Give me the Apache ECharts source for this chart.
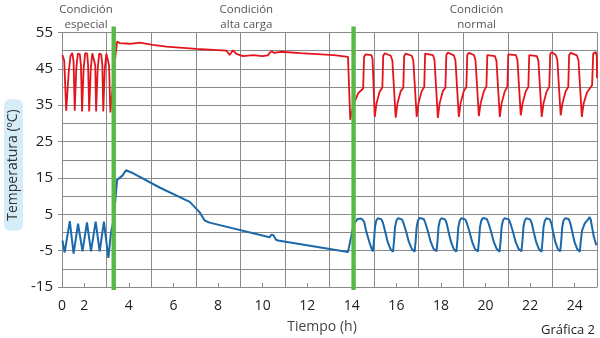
<!DOCTYPE html>
<html>
<head>
<meta charset="utf-8">
<script src="https://cdn.jsdelivr.net/npm/echarts@6/dist/echarts.min.js"></script>
<style>
html,body{margin:0;padding:0;background:#fff;}
#c{width:600px;height:338px;}
</style>
</head>
<body>
<div id="c"></div>
<script>
// ---- data (hours, ºC) ----
const redHours = [1.02,1.10,1.19,1.30,1.38,1.46,1.52,1.57,1.64,1.71,1.80,1.85,1.90,1.97,2.04,2.13,2.17,2.22,2.29,2.36,2.44,2.49,2.53,2.60,2.67,2.76,2.81,2.85,2.92,2.99,3.06,3.11,3.17,3.23,3.30,3.37,3.47,3.59,4.04,4.49,5.07,5.68,7.03,8.38,8.45,8.52,8.60,8.67,8.75,8.82,9.12,9.57,9.99,10.23,10.32,10.41,10.50,10.81,11.70,13.19,13.83,13.93,14.06,14.29,14.51,14.55,14.63,14.88,14.93,15.03,
15.11,15.25,15.37,15.41,15.48,15.75,15.82,15.97,
16.05,16.19,16.31,16.35,16.42,16.69,16.76,16.91,
16.99,17.13,17.25,17.29,17.36,17.64,17.71,17.86,
17.94,18.08,18.20,18.24,18.31,18.58,18.65,18.80,
18.88,19.02,19.14,19.18,19.25,19.48,19.55,19.70,
19.78,19.92,20.04,20.08,20.15,20.42,20.49,20.64,
20.72,20.86,20.98,21.02,21.09,21.36,21.43,21.58,
21.66,21.80,21.92,21.96,22.03,22.30,22.37,22.52,
22.60,22.74,22.86,22.90,22.97,23.15,23.22,23.37,
23.45,23.59,23.71,23.75,23.82,24.10,24.17,24.32,
24.40,24.55,24.78,24.83,24.95,24.99,25.00];
const redTemps = [48.8,47.2,33.5,44,48.5,49.4,47,33.5,45,49.2,49,46,33.3,45,49.3,49.2,46,33.3,45,49.3,49,46,33.3,45,49.2,49,46,33.3,45,49.2,48.8,46,33.0,37,42,47,52.5,52.1,51.9,52.2,51.6,51.1,50.5,50,49.6,48.8,49.3,50.1,49.6,49.1,48.5,48.8,48.5,48.7,49.4,49.9,49.4,49.7,49.3,48.8,48.3,31.0,35,38.3,39.6,48.3,49.0,48.8,47.7,31.8,
35.5,38.8,39.8,48.6,49.3,48.6,47.3,31.6,
35.5,38.8,39.8,48.5,49.2,48.6,47.3,31.8,
35.5,38.8,40.0,49.2,49.6,48.8,47.5,31.5,
35.5,38.8,39.8,48.8,49.5,48.7,47.3,31.8,
35.5,38.8,40.0,48.8,49.4,48.8,47.3,32.0,
35.5,38.8,40.2,48.8,49.3,48.5,47.2,31.8,
35.5,38.8,40.0,49.0,49.5,48.8,47.5,32.2,
35.5,38.8,40.0,48.8,49.2,48.5,47.3,31.8,
35.5,38.8,40.0,49.0,49.6,48.8,47.5,32.2,
35.5,38.8,40.0,48.8,49.4,48.7,47.3,31.8,
35.5,38.5,40.5,49.2,49.6,48.5,42.4];

const blueHours = [1.02,1.12,1.35,1.52,1.72,1.92,2.12,2.30,2.51,2.69,2.88,3.08,3.20,3.32,3.47,3.72,3.87,4.11,5.40,6.73,7.17,7.40,7.62,10.31,10.40,10.49,10.60,10.69,13.83,13.91,13.96,14.03,14.09,14.28,14.44,14.55,14.64,14.78,14.89,14.95,
15.00,15.04,15.10,15.17,15.33,15.40,15.50,15.61,15.73,15.85,
15.90,15.94,16.00,16.07,16.25,16.32,16.44,16.56,16.69,16.82,
16.87,16.91,16.97,17.04,17.23,17.30,17.42,17.54,17.67,17.80,
17.85,17.89,17.95,18.02,18.18,18.25,18.34,18.45,18.57,18.69,
18.74,18.78,18.84,18.91,19.09,19.16,19.28,19.40,19.53,19.66,
19.71,19.75,19.81,19.88,20.06,20.13,20.25,20.37,20.50,20.63,
20.68,20.72,20.78,20.85,21.04,21.11,21.23,21.35,21.48,21.61,
21.66,21.70,21.76,21.83,22.00,22.07,22.16,22.27,22.39,22.51,
22.56,22.60,22.66,22.73,22.88,22.95,23.03,23.13,23.24,23.35,
23.40,23.44,23.50,23.57,23.73,23.80,23.89,23.99,24.11,24.23,
24.27,24.33,24.45,24.60,24.67,24.72,24.85,24.97];
const blueTemps = [-2.2,-5.5,3.1,-5.8,2.4,-5.2,2.8,-5.2,3.0,-5.2,3.0,-7.0,0.1,3.6,14.4,15.7,17.1,16.5,12.3,8.4,5.6,3.3,2.7,-1.3,-0.6,-0.8,-2.0,-2.2,-5.4,-5.0,-1.5,0.6,2.4,3.8,3.8,3.0,0.5,-2.5,-4.5,-5.2,
-2,1.5,3.3,3.9,3.6,2.6,0.2,-2.6,-4.5,-5.3,
-2,1.5,3.2,3.9,3.6,2.6,0.2,-2.6,-4.5,-5.3,
-2,1.5,3.3,4.0,3.7,2.6,0.2,-2.6,-4.5,-5.2,
-2,1.5,3.3,3.9,3.6,2.6,0.2,-2.6,-4.5,-5.3,
-2,1.5,3.2,3.9,3.6,2.6,0.2,-2.6,-4.6,-5.2,
-2,1.5,3.3,4.0,3.7,2.6,0.2,-2.6,-4.5,-5.3,
-2,1.5,3.3,3.9,3.6,2.6,0.2,-2.6,-4.5,-5.2,
-2,1.5,3.3,3.9,3.6,2.6,0.2,-2.6,-4.5,-5.3,
-2,1.5,3.2,3.9,3.6,2.6,0.2,-2.6,-4.5,-5.2,
-2,1.5,3.3,3.9,3.7,2.6,0.2,-2.6,-4.5,-5.3,
-2.5,0.5,2.5,3.6,4.2,3.5,-1.0,-3.5];

const conditionChanges = [3.32, 14.08];
const conditionTitles = [
  {hour: 2.08, text: 'Condición\nespecial'},
  {hour: 9.27, text: 'Condición\nalta carga'},
  {hour: 19.6, text: 'Condición\nnormal'}
];
const xZeroLabel = '0';
const yMin = -15, yMax = 55, xMin = 1, xMax = 25;

const redData = redHours.map((h, i) => [h, redTemps[i]]);
const blueData = blueHours.map((h, i) => [h, blueTemps[i]]);

const GRID_COLOR = '#8a8a8a';
const FONT = '"Open Sans", "Noto Sans", sans-serif';

const chart = echarts.init(document.getElementById('c'), null, {renderer: 'canvas'});
const option = {
  animation: false,
  backgroundColor: '#fff',
  grid: {left: 62, right: 3, top: 32.5, bottom: 51, containLabel: false},
  xAxis: [
    {
      type: 'value', min: xMin, max: xMax, interval: 1, position: 'bottom',
      axisLine: {show: true, onZero: false, lineStyle: {color: GRID_COLOR, width: 1}},
      axisTick: {show: true, inside: true, length: 4, lineStyle: {color: GRID_COLOR}},
      splitLine: {show: false},
      axisLabel: {
        margin: 12, color: '#222', fontSize: 14, fontFamily: FONT,
        formatter: v => (v === 1 ? xZeroLabel : (v % 2 === 0 ? String(v) : ''))
      }
    },
    {
      // vertical grid lines at odd hours (axis shifted by -xMin so it starts at 0)
      type: 'value', min: 0, max: xMax - xMin, interval: 2, position: 'top',
      axisLine: {show: false, onZero: false}, axisTick: {show: false}, axisLabel: {show: false},
      splitLine: {show: true, lineStyle: {color: GRID_COLOR, width: 1}}
    }
  ],
  yAxis: [
    {
      type: 'value', min: yMin, max: yMax, interval: 5, position: 'left',
      axisLine: {show: true, onZero: false, lineStyle: {color: GRID_COLOR, width: 1}},
      axisTick: {show: false}, axisLabel: {show: false},
      splitLine: {show: true, lineStyle: {color: GRID_COLOR, width: 1}}
    },
    {
      // labels and outer ticks every 10 ºC (axis shifted by -yMin so it starts at 0)
      type: 'value', min: 0, max: yMax - yMin, interval: 10, position: 'left',
      axisLine: {show: false, onZero: false},
      axisTick: {show: true, length: 4, lineStyle: {color: GRID_COLOR}},
      splitLine: {show: false},
      axisLabel: {margin: 9, color: '#222', fontSize: 15, fontFamily: FONT, formatter: v => String(v + yMin)}
    }
  ],
  series: [
    {
      type: 'line', data: redData, xAxisIndex: 0, yAxisIndex: 0, showSymbol: false,
      lineStyle: {color: '#e3141c', width: 1.8}, z: 3
    },
    {
      type: 'line', data: blueData, xAxisIndex: 0, yAxisIndex: 0, showSymbol: false,
      lineStyle: {color: '#1b68aa', width: 2}, z: 3
    },
    {
      type: 'custom', xAxisIndex: 0, yAxisIndex: 0, z: 5, clip: false,
      data: conditionChanges.map(h => [h, yMax]),
      renderItem: (params, api) => {
        const top = api.coord([api.value(0), yMax]);
        const bot = api.coord([api.value(0), yMin]);
        return {
          type: 'rect',
          shape: {x: top[0] - 2.2, y: top[1] - 6, width: 4.4, height: bot[1] - top[1] + 9},
          style: {fill: '#58b947'}
        };
      }
    },
    {
      type: 'custom', xAxisIndex: 0, yAxisIndex: 0, z: 5, clip: false,
      data: conditionTitles.map(c => [c.hour, yMax]),
      renderItem: (params, api) => {
        const p = api.coord([api.value(0), yMax]);
        return {
          type: 'text',
          x: p[0], y: 2,
          style: {
            text: conditionTitles[params.dataIndex].text,
            fill: '#555', font: '11.5px ' + FONT, align: 'center', verticalAlign: 'top', lineHeight: 15
          }
        };
      }
    }
  ],
  graphic: [
    {
      type: 'text', x: 13.5, y: 165, rotation: Math.PI / 2,
      style: {
        text: 'Temperatura (ºC)', fill: '#333', font: '14px ' + FONT,
        align: 'center', verticalAlign: 'middle',
        backgroundColor: '#d4edf8', padding: [3, 10, 2, 10], borderRadius: 6
      }
    },
    {
      type: 'text', x: 322, y: 327,
      style: {text: 'Tiempo (h)', fill: '#444', font: '14px ' + FONT, align: 'center', verticalAlign: 'middle'}
    },
    {
      type: 'text', x: 595, y: 330,
      style: {text: 'Gráfica 2', fill: '#222', font: '13px ' + FONT, align: 'right', verticalAlign: 'middle'}
    }
  ]
};
chart.setOption(option);
</script>
</body>
</html>
